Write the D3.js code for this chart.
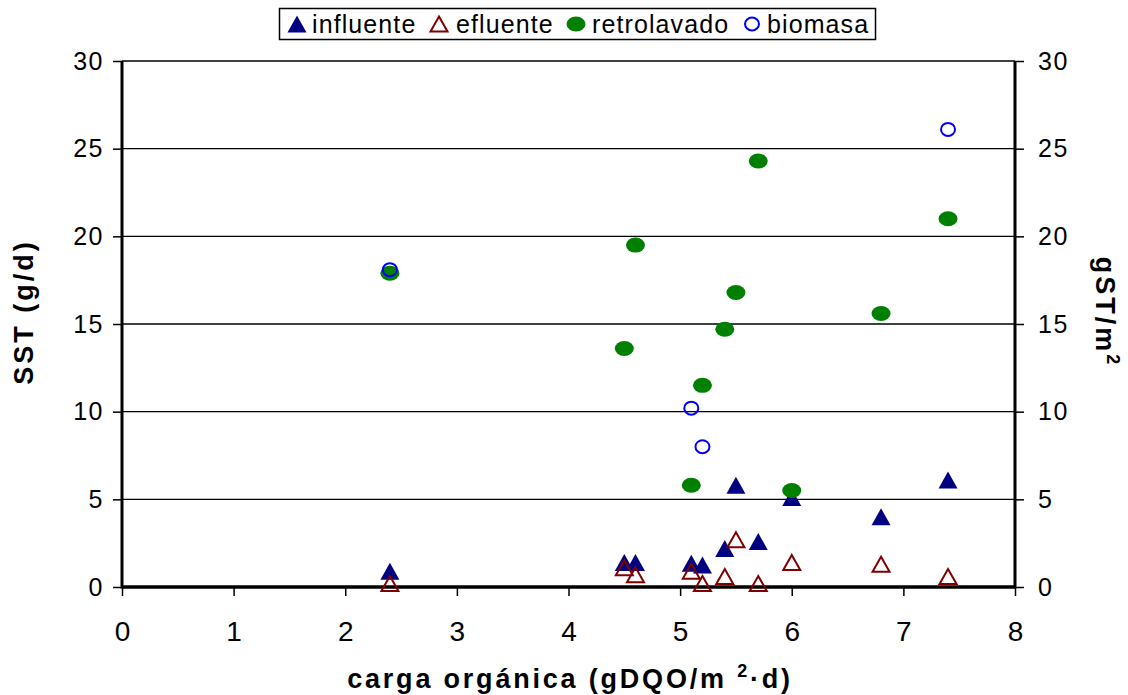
<!DOCTYPE html>
<html lang="es">
<head>
<meta charset="UTF-8">
<script src="https://d3js.org/d3.v7.min.js"></script>
<style>
    body { margin: 0; background: #fff; }
    svg { font-family: "Liberation Sans", Arial, sans-serif; }
    .tick-label { font-size: 25px; letter-spacing: 1.5px; fill: #000; }
    .x-tick-label { font-size: 28px; fill: #000; }
    .axis-title { font-size: 27px; font-weight: bold; fill: #000; letter-spacing: 2.8px; }
    .legend-text { font-size: 25px; letter-spacing: 1.1px; fill: #000; }
</style>
<title>SST vs carga orgánica</title>
</head>
<body>
<div id="chart"></div>
<script>
// Data
const carga = [2.4, 4.5, 4.6, 5.1, 5.2, 5.4, 5.5, 5.7, 6.0, 6.8, 7.4];
const influente = [0.9, 1.4, 1.4, 1.35, 1.25, 2.2, 5.8, 2.6, 5.1, 4.0, 6.1];
const efluente = [0.2, 1.1, 0.7, 0.9, 0.2, 0.6, 2.7, 0.2, 1.4, 1.3, 0.6];
const retrolavado = [17.9, 13.6, 19.5, 5.8, 11.5, 14.7, 16.8, 24.3, 5.5, 15.6, 21.0];
const cargaBiomasa = [2.4, 5.1, 5.2, 7.4];
const biomasa = [18.1, 10.2, 8.0, 26.1];

const xTicks = [0, 1, 2, 3, 4, 5, 6, 7, 8];
const yTicks = [0, 5, 10, 15, 20, 25, 30];
const seriesNames = ["influente", "efluente", "retrolavado", "biomasa"];

// Dimensions
const width = 1128, height = 695;
const plot = { left: 122, right: 1015, top: 61, bottom: 587 };

const svg = d3.select("#chart").append("svg")
    .attr("width", width)
    .attr("height", height);

// Scales
const xScale = d3.scaleLinear().domain([0, 8]).range([plot.left, plot.right]);
const yScale = d3.scaleLinear().domain([0, 30]).range([plot.bottom, plot.top]);

// Gridlines
svg.append("g").selectAll("line")
    .data(yTicks.filter(d => d > 0))
    .join("line")
    .attr("x1", plot.left).attr("x2", plot.right)
    .attr("y1", d => yScale(d)).attr("y2", d => yScale(d))
    .attr("stroke", "#000").attr("stroke-width", 1.3);

// Axes
const yLeft = d3.axisLeft(yScale).tickValues(yTicks).tickSize(9).tickPadding(9);
const yRight = d3.axisRight(yScale).tickValues(yTicks).tickSize(9).tickPadding(14);
const xAxis = d3.axisBottom(xScale).tickValues(xTicks).tickSize(9).tickPadding(25);

function styleAxis(g, cls) {
    g.select(".domain").remove();
    g.selectAll(".tick line").attr("stroke", "#000").attr("stroke-width", 1.5);
    g.selectAll(".tick text").attr("class", cls).attr("font-family", null).attr("font-size", null);
}

svg.append("g").attr("transform", `translate(${plot.left},0)`).call(yLeft).call(styleAxis, "tick-label");
svg.append("g").attr("transform", `translate(${plot.right},0)`).call(yRight).call(styleAxis, "tick-label");
svg.append("g").attr("transform", `translate(0,${plot.bottom})`).call(xAxis).call(styleAxis, "x-tick-label");

// thick axis lines
svg.append("line").attr("x1", plot.left).attr("x2", plot.left)
    .attr("y1", plot.top).attr("y2", plot.bottom + 1.5)
    .attr("stroke", "#000").attr("stroke-width", 3);
svg.append("line").attr("x1", plot.right).attr("x2", plot.right)
    .attr("y1", plot.top).attr("y2", plot.bottom + 1.5)
    .attr("stroke", "#000").attr("stroke-width", 3);
svg.append("line").attr("x1", plot.left).attr("x2", plot.right)
    .attr("y1", plot.bottom).attr("y2", plot.bottom)
    .attr("stroke", "#000").attr("stroke-width", 3.5);

// Markers
const triPath = (w, h) => `M0,${-h / 2}L${w / 2},${h / 2}L${-w / 2},${h / 2}Z`;

const marks = svg.append("g");

marks.selectAll(".infl")
    .data(carga.map((c, i) => [c, influente[i]]))
    .join("path")
    .attr("transform", d => `translate(${xScale(d[0])},${yScale(d[1])})`)
    .attr("d", triPath(19, 17))
    .attr("fill", "#000080");

marks.selectAll(".eflu")
    .data(carga.map((c, i) => [c, efluente[i]]))
    .join("path")
    .attr("transform", d => `translate(${xScale(d[0])},${yScale(d[1])})`)
    .attr("d", triPath(17, 15))
    .attr("fill", "none")
    .attr("stroke", "#800000")
    .attr("stroke-width", 2);

marks.selectAll(".retro")
    .data(carga.map((c, i) => [c, retrolavado[i]]))
    .join("ellipse")
    .attr("cx", d => xScale(d[0]))
    .attr("cy", d => yScale(d[1]))
    .attr("rx", 9.5).attr("ry", 7.5)
    .attr("fill", "#008000");

marks.selectAll(".bio")
    .data(cargaBiomasa.map((c, i) => [c, biomasa[i]]))
    .join("ellipse")
    .attr("cx", d => xScale(d[0]))
    .attr("cy", d => yScale(d[1]))
    .attr("rx", 7).attr("ry", 6.5)
    .attr("fill", "none")
    .attr("stroke", "#0000ff")
    .attr("stroke-width", 2);

// Axis titles
svg.append("text").attr("class", "axis-title")
    .attr("x", 570).attr("y", 688)
    .attr("text-anchor", "middle")
    .html('carga orgánica (gDQO/m <tspan font-size="18" dy="-11">2</tspan><tspan dy="11">·d)</tspan>');

svg.append("text").attr("class", "axis-title")
    .attr("transform", "translate(33,312) rotate(-90)")
    .attr("text-anchor", "middle")
    .style("letter-spacing", "3px")
    .text("SST (g/d)");

svg.append("text").attr("class", "axis-title")
    .attr("transform", "translate(1096,312) rotate(90)")
    .attr("text-anchor", "middle")
    .style("letter-spacing", "3px")
    .html('gST/m<tspan font-size="18" dy="-11">2</tspan>');

// Legend
const legend = svg.append("g");
legend.append("rect")
    .attr("x", 279.5).attr("y", 8.5)
    .attr("width", 596).attr("height", 31)
    .attr("fill", "#fff").attr("stroke", "#000").attr("stroke-width", 1.5);

const legendMarkX = [297, 439, 576, 752];
const legendTextX = [312, 456, 592, 767];
const legendY = 24;

legend.append("path").attr("transform", `translate(${legendMarkX[0]},${legendY})`)
    .attr("d", triPath(19, 17)).attr("fill", "#000080");
legend.append("path").attr("transform", `translate(${legendMarkX[1]},${legendY})`)
    .attr("d", triPath(17, 15)).attr("fill", "none").attr("stroke", "#800000").attr("stroke-width", 2);
legend.append("ellipse").attr("cx", legendMarkX[2]).attr("cy", legendY)
    .attr("rx", 9.5).attr("ry", 7.5).attr("fill", "#008000");
legend.append("ellipse").attr("cx", legendMarkX[3]).attr("cy", legendY)
    .attr("rx", 7).attr("ry", 6.5).attr("fill", "none").attr("stroke", "#0000ff").attr("stroke-width", 2);

legend.selectAll(".legend-text")
    .data(seriesNames)
    .join("text")
    .attr("class", "legend-text")
    .attr("x", (d, i) => legendTextX[i])
    .attr("y", 33)
    .text(d => d);
</script>
</body>
</html>
